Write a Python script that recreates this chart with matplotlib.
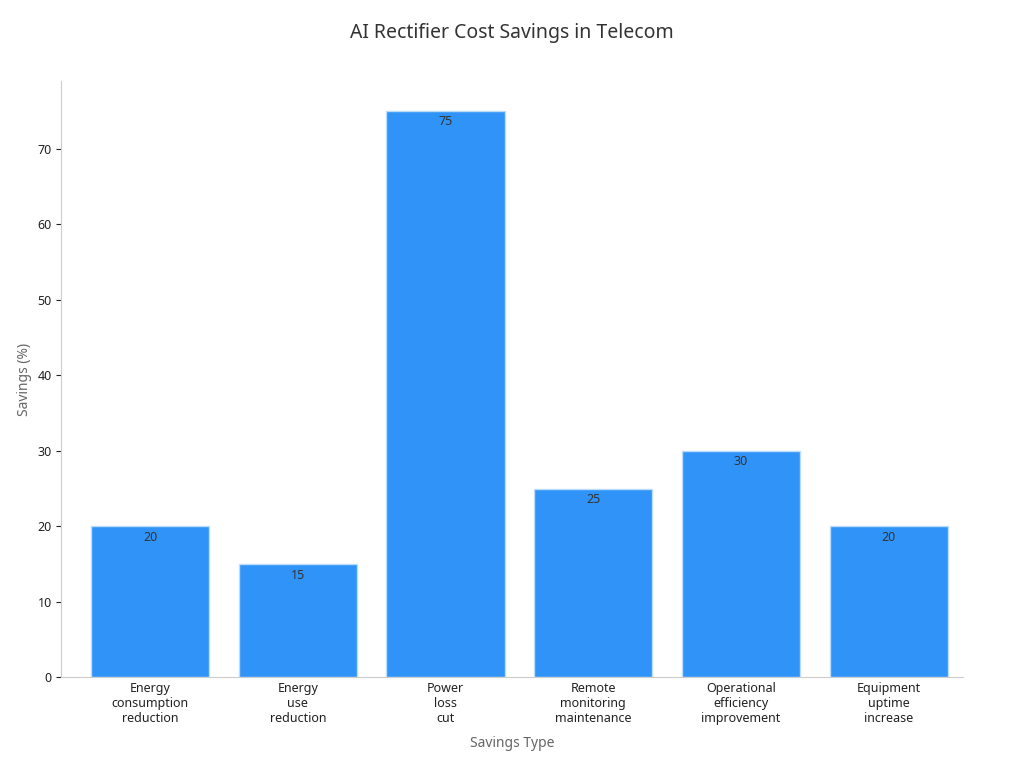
import matplotlib.pyplot as plt

CATEGORIES = ["Energy\nconsumption\nreduction", "Energy\nuse\nreduction", "Power\nloss\ncut",
              "Remote\nmonitoring\nmaintenance", "Operational\nefficiency\nimprovement",
              "Equipment\nuptime\nincrease"]
SAVINGS = [20, 15, 75, 25, 30, 20]


def main():
    plt.rcParams['font.family'] = ['Noto Sans', 'DejaVu Sans']
    fig, ax = plt.subplots(figsize=(10.24, 7.68), dpi=100)
    fig.subplots_adjust(left=0.06, right=0.94, top=0.895, bottom=0.118)

    x = range(len(SAVINGS))
    bars = ax.bar(x, SAVINGS, width=0.8, color='#2f93f8', edgecolor='#bcdcfb', linewidth=1)
    for b, v in zip(bars, SAVINGS):
        ax.text(b.get_x() + b.get_width() / 2, v - 0.6, str(v), ha='center', va='top',
                fontsize=9, color='#333333')

    ax.set_xticks(list(x))
    ax.set_xticklabels(CATEGORIES, fontsize=9, color='#222222')
    ax.tick_params(axis='y', labelsize=9, colors='#222222')
    ax.tick_params(axis='x', length=0)
    ax.set_xlim(-0.6, 5.5)
    ax.set_ylim(0, 79)
    ax.set_yticks(range(0, 80, 10))
    ax.set_xlabel('Savings Type', fontsize=10, color='#666666', labelpad=8)
    ax.set_ylabel('Savings (%)', fontsize=10, color='#666666')
    fig.suptitle('AI Rectifier Cost Savings in Telecom', fontsize=14, color='#333333', y=0.97)

    for s in ['top', 'right']:
        ax.spines[s].set_visible(False)
    for s in ['left', 'bottom']:
        ax.spines[s].set_color('#cccccc')

    plt.savefig('out.png')


if __name__ == '__main__':
    main()
